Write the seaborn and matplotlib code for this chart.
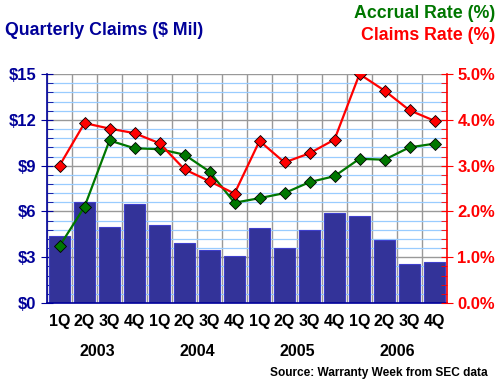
import numpy as np
import pandas as pd
import matplotlib
matplotlib.use("Agg")
import matplotlib.pyplot as plt
from matplotlib.ticker import MultipleLocator, FuncFormatter
import seaborn as sns

# Quarterly data
quarters = ["1Q", "2Q", "3Q", "4Q"] * 4
years = ["2003", "2004", "2005", "2006"]
claims_mil = [4.4, 6.6, 5.0, 6.5, 5.1, 3.9, 3.5, 3.1,
              4.9, 3.6, 4.8, 5.9, 5.7, 4.1, 2.55, 2.7]
claims_rate = [3.0, 3.93, 3.81, 3.71, 3.49, 2.92, 2.66, 2.39,
               3.54, 3.07, 3.27, 3.57, 5.0, 4.64, 4.21, 3.98]
accrual_rate = [1.24, 2.10, 3.55, 3.38, 3.36, 3.24, 2.87, 2.19,
                2.29, 2.40, 2.64, 2.77, 3.15, 3.13, 3.40, 3.48]

NAVY = "#000099"
BAR = "#333399"
GREEN = "#007700"
RED = "#ff0000"

sns.set_style("white")
plt.rcParams["font.family"] = ["Liberation Sans", "DejaVu Sans"]
plt.rcParams["font.weight"] = "bold"

df = pd.DataFrame({
    "pos": np.arange(len(claims_mil)),
    "claims": claims_mil,
    "claims_rate": claims_rate,
    "accrual_rate": accrual_rate,
})

fig = plt.figure(figsize=(5, 3.84), dpi=100)
ax = fig.add_axes([0.094, 0.211, 0.80, 0.596])

sns.barplot(data=df, x="pos", y="claims", color=BAR, width=0.87,
            edgecolor="#3f3fcc", linewidth=0.8, saturation=1, ax=ax, zorder=2)

n = len(claims_mil)
ax.set_xlim(-0.5, n - 0.5)
ax.set_ylim(0, 15)
ax.set_axisbelow(True)

# horizontal grid: gray majors, light blue minors
ax.yaxis.set_major_locator(MultipleLocator(3))
ax.yaxis.set_minor_locator(MultipleLocator(0.6))
ax.grid(which="minor", axis="y", color="#99ccff", linewidth=0.9)
ax.grid(which="major", axis="y", color="#999999", linewidth=1.0)
# vertical grid at category boundaries
ax.set_xticks(np.arange(n))
ax.set_xticks(np.arange(-0.5, n, 1.0), minor=True)
ax.grid(which="minor", axis="x", color="#999999", linewidth=1.0)
ax.set_xticklabels(quarters, fontsize=11.5, fontweight="bold", color="black")
ax.tick_params(axis="x", which="major", length=0, pad=8)
ax.tick_params(axis="x", which="minor", length=4, color="black")
ax.yaxis.set_major_formatter(FuncFormatter(lambda v, p: f"${v:.0f}"))
ax.tick_params(axis="y", which="major", direction="inout", length=8,
               color=NAVY, labelcolor=NAVY, labelsize=12)
ax.tick_params(axis="y", which="minor", direction="in", length=4, color=NAVY)
for lbl in ax.get_yticklabels():
    lbl.set_fontweight("bold")
ax.set_xlabel("")
ax.set_ylabel("")
for s in ["top", "right"]:
    ax.spines[s].set_visible(False)
ax.spines["left"].set_color(NAVY)
ax.spines["left"].set_linewidth(1.2)
ax.spines["bottom"].set_color(NAVY)
ax.spines["bottom"].set_linewidth(1.2)

ax2 = ax.twinx()
sns.lineplot(x=df["pos"], y=df["accrual_rate"], color=GREEN, linewidth=1.6,
             marker="D", markersize=6, markerfacecolor=GREEN,
             markeredgecolor="black", markeredgewidth=0.6, ax=ax2)
sns.lineplot(x=df["pos"], y=df["claims_rate"], color=RED, linewidth=1.6,
             marker="D", markersize=6, markerfacecolor=RED,
             markeredgecolor="black", markeredgewidth=0.6, ax=ax2)
ax2.set_ylim(0, 5)
ax2.set_xlim(-0.5, n - 0.5)
ax2.yaxis.set_major_locator(MultipleLocator(1))
ax2.yaxis.set_minor_locator(MultipleLocator(0.2))
ax2.yaxis.set_major_formatter(FuncFormatter(lambda v, p: f"{v:.1f}%"))
ax2.tick_params(axis="y", which="major", direction="inout", length=8,
                color=RED, labelcolor=RED, labelsize=12)
ax2.tick_params(axis="y", which="minor", direction="in", length=4, color=RED)
for lbl in ax2.get_yticklabels():
    lbl.set_fontweight("bold")
ax2.set_ylabel("")
ax2.set_xlabel("")
for s in ["top", "left", "bottom"]:
    ax2.spines[s].set_visible(False)
ax2.spines["right"].set_color(RED)
ax2.spines["right"].set_linewidth(1.2)

# year labels centred under each group of four quarters
for i, yr in enumerate(years):
    ax.text(i * 4 + 1.5, -0.214, yr, transform=ax.get_xaxis_transform(),
            ha="center", va="center", fontsize=11.5, fontweight="bold",
            color="black")

fig.text(0.01, 0.92, "Quarterly Claims ($ Mil)", color=NAVY, fontsize=12.8,
         fontweight="bold", ha="left", va="center")
fig.text(0.99, 0.966, "Accrual Rate (%)", color=GREEN, fontsize=12.8,
         fontweight="bold", ha="right", va="center")
fig.text(0.99, 0.908, "Claims Rate (%)", color=RED, fontsize=12.8,
         fontweight="bold", ha="right", va="center")
fig.text(0.975, 0.028, "Source: Warranty Week from SEC data", color="black",
         fontsize=8.6, fontweight="bold", ha="right", va="center")

fig.savefig("out.png", dpi=100, facecolor="white")
